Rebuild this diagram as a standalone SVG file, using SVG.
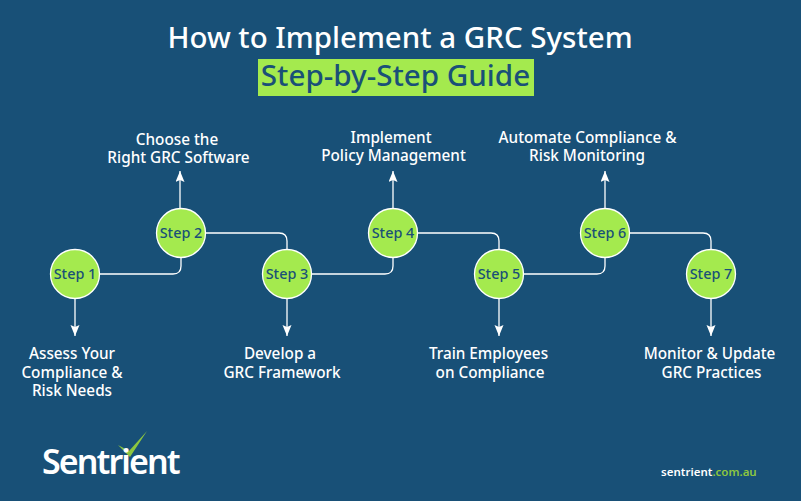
<svg xmlns="http://www.w3.org/2000/svg" width="801" height="501" viewBox="0 0 801 501">
<defs><marker id="a" markerUnits="userSpaceOnUse" markerWidth="12" markerHeight="10" refX="11" refY="4.5" orient="auto"><path d="M0 0L11 4.5L0 9L2 4.5Z" fill="#fff"/></marker></defs>
<style>
text{font-family:"Noto Sans","Open Sans",sans-serif}
.l{font-size:15.3px;font-weight:500;fill:#fff;text-anchor:middle}
.s{font-size:14.4px;font-weight:500;fill:#1a5077;text-anchor:middle}
.c{fill:#a4ea4e;stroke:#fff;stroke-width:1.3}
.k{fill:none;stroke:#fff;stroke-width:1.3}
</style>
<rect width="801" height="501" fill="#185077"/>
<g id="title">
<text x="400" y="48" font-size="29.5" font-weight="500" fill="#fff" text-anchor="middle">How to Implement a GRC System</text>
<rect x="258" y="59" width="276" height="37" fill="#a4ea4e"/>
<text x="395.500" y="86" font-size="29.6" font-weight="500" fill="#1a5077" text-anchor="middle">Step-by-Step Guide</text>
</g>
<g id="connectors">
<path class="k" d="M100 274H173Q181 274 181 266V258"/>
<path class="k" d="M205 233H279Q287 233 287 241V250"/>
<path class="k" d="M312 274H385Q393 274 393 266V258"/>
<path class="k" d="M417 233H491Q499 233 499 241V250"/>
<path class="k" d="M524 274H597Q605 274 605 266V258"/>
<path class="k" d="M629 233H703Q711 233 711 241V250"/>
<path class="k" marker-end="url(#a)" d="M75 298V336"/>
<path class="k" marker-end="url(#a)" d="M180 209V171"/>
<path class="k" marker-end="url(#a)" d="M287 298V336"/>
<path class="k" marker-end="url(#a)" d="M393 209V171"/>
<path class="k" marker-end="url(#a)" d="M499 298V336"/>
<path class="k" marker-end="url(#a)" d="M605 209V171"/>
<path class="k" marker-end="url(#a)" d="M711 298V336"/>
</g>
<g id="step1"><circle class="c" cx="75" cy="274" r="24.5"/><text class="s" x="75" y="279">Step 1</text><text class="l" x="72" y="359">Assess Your</text><text class="l" x="72" y="378">Compliance &amp;</text><text class="l" x="72" y="396">Risk Needs</text></g>
<g id="step2"><circle class="c" cx="181" cy="233" r="24.5"/><text class="s" x="181" y="238">Step 2</text><text class="l" x="177" y="145">Choose the</text><text class="l" x="178.500" y="163">Right GRC Software</text></g>
<g id="step3"><circle class="c" cx="287" cy="274" r="24.5"/><text class="s" x="287" y="279">Step 3</text><text class="l" x="280" y="359">Develop a</text><text class="l" x="282" y="378">GRC Framework</text></g>
<g id="step4"><circle class="c" cx="393" cy="233" r="24.5"/><text class="s" x="393" y="238">Step 4</text><text class="l" x="391" y="143">Implement</text><text class="l" x="393.500" y="161">Policy Management</text></g>
<g id="step5"><circle class="c" cx="499" cy="274" r="24.5"/><text class="s" x="499" y="279">Step 5</text><text class="l" x="488.500" y="359">Train Employees</text><text class="l" x="490" y="378">on Compliance</text></g>
<g id="step6"><circle class="c" cx="605" cy="233" r="24.5"/><text class="s" x="605" y="238">Step 6</text><text class="l" x="587.500" y="143">Automate Compliance &amp;</text><text class="l" x="587" y="161">Risk Monitoring</text></g>
<g id="step7"><circle class="c" cx="711" cy="274" r="24.5"/><text class="s" x="711" y="279">Step 7</text><text class="l" x="709.500" y="359">Monitor &amp; Update</text><text class="l" x="711.500" y="378">GRC Practices</text></g>
<g id="logo"><path d="M118 445L129 451L147 431L130 457Z" fill="#8dc63f"/><text x="42" y="474" font-size="34" font-weight="600" letter-spacing="-1.9" fill="#fff" font-family="Open Sans">Sentrient</text></g>
<g id="url"><text x="661" y="476" font-size="11.500" font-weight="600" fill="#fff">sentrient<tspan fill="#8dc63f">.com.au</tspan></text></g>
</svg>
